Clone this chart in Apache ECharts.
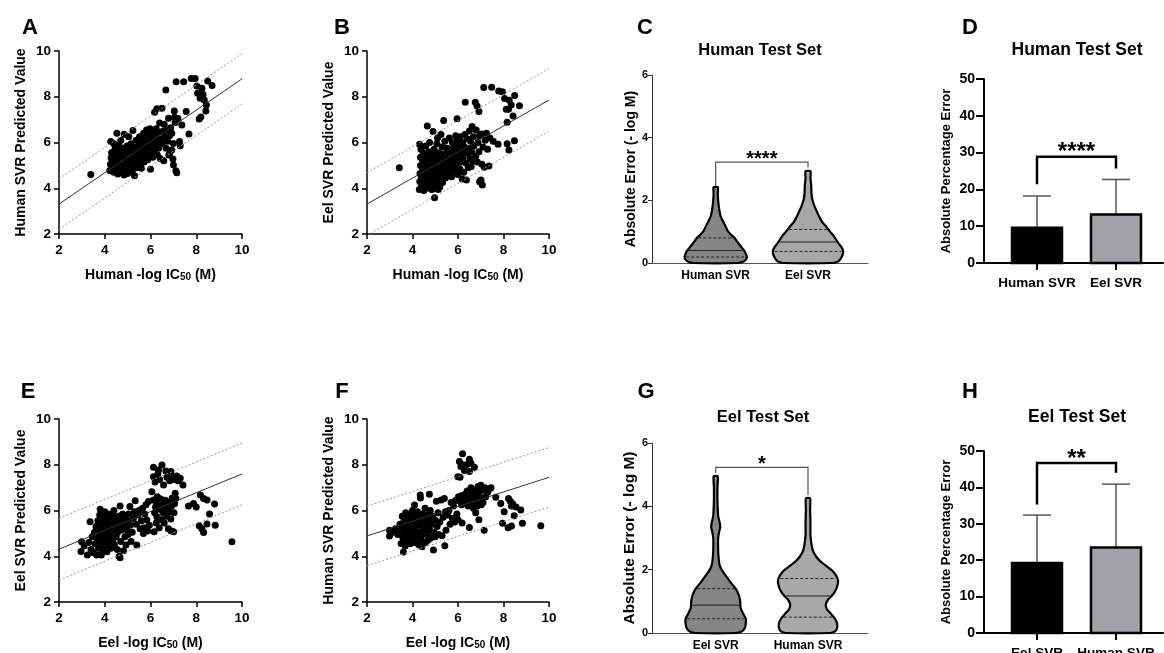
<!DOCTYPE html>
<html>
<head>
<meta charset="utf-8">
<script src="https://cdn.jsdelivr.net/npm/echarts@6/dist/echarts.min.js"></script>
<style>
html, body { margin: 0; padding: 0; background: #fff; }
#fig { width: 1164px; height: 653px; }
</style>
</head>
<body>
<div id="fig"></div>
<script>
const FONT = '"Liberation Sans", Arial, Helvetica, sans-serif';

// A: human test set, human SVR prediction vs measured
const ptsA = [
  [3.39,4.60],[4.26,6.04],[4.53,6.40],[4.85,6.36],[5.23,6.52],[5.05,6.25],[4.70,6.10],[4.40,5.95],
  [4.22,4.78],[4.25,5.05],[4.28,5.32],[4.30,5.55],[4.33,4.92],[4.36,5.18],[4.40,4.70],[4.42,5.45],
  [4.45,5.70],[4.47,5.00],[4.50,5.28],[4.52,4.82],[4.55,5.55],[4.57,4.62],[4.60,5.12],[4.62,5.88],
  [4.65,5.38],[4.67,4.90],[4.70,5.62],[4.72,5.20],[4.75,4.70],[4.77,5.45],[4.80,5.02],[4.82,5.75],
  [4.85,4.58],[4.87,5.30],[4.90,5.55],[4.92,4.85],[4.95,5.15],[4.97,5.85],[5.00,4.65],[5.02,5.40],
  [5.05,5.00],[5.07,5.65],[5.10,4.80],[5.12,5.25],[5.15,5.95],[5.17,5.50],[5.20,4.72],[5.22,5.10],
  [5.25,5.78],[5.27,5.35],[5.30,4.55],[5.32,5.60],[5.35,5.05],[5.37,6.10],[5.40,5.45],[5.42,4.90],
  [5.45,5.85],[5.47,5.25],[5.50,5.65],[5.52,6.25],[5.55,5.05],[5.57,5.50],[5.60,4.87],[5.62,6.00],
  [5.65,5.35],[5.67,5.78],[5.70,6.40],[5.72,5.15],[4.35,5.40],[4.58,5.00],[4.78,5.25],[4.62,4.75],
  [4.88,5.10],[5.08,5.30],[4.48,5.15],[4.93,5.40],[5.18,4.95],[5.28,5.55],[4.68,5.50],[4.83,4.95],
  [5.75,5.60],[5.78,6.15],[5.80,5.40],[5.83,6.55],[5.85,5.90],[5.88,5.25],[5.90,6.30],[5.93,5.70],
  [5.95,6.05],[5.98,6.60],[6.00,4.83],[6.00,5.50],[6.03,6.20],[6.05,5.85],[6.08,6.45],[6.10,5.35],
  [6.12,6.00],[6.15,5.65],[6.18,7.32],[6.20,6.30],[6.22,5.90],[6.25,6.60],[6.28,7.47],[6.30,5.45],
  [6.32,6.10],[6.35,5.75],[6.38,6.45],[6.40,6.85],[6.42,5.30],[6.45,6.15],[6.50,7.50],[6.52,5.95],
  [6.55,6.50],[6.58,5.20],[6.60,6.80],[6.62,6.25],[6.67,8.30],[6.68,5.75],[6.70,6.55],[6.75,6.05],
  [6.79,7.06],[6.80,5.45],[6.83,6.30],[6.83,5.50],[6.88,6.65],[6.93,6.40],[6.93,5.67],[6.98,5.28],
  [7.00,5.02],[7.00,5.96],[7.04,7.38],[7.05,7.10],[7.08,6.87],[7.11,4.77],[7.15,4.68],[7.12,8.66],
  [7.20,7.05],[7.27,6.04],[7.30,5.86],[7.37,6.77],[7.45,8.66],[7.56,7.35],[7.68,6.37],[7.78,8.80],
  [7.95,8.80],[8.03,8.47],[8.06,8.15],[8.13,7.03],[8.17,7.93],[8.20,7.12],[8.25,8.37],[8.35,7.86],
  [8.42,7.38],[8.44,7.64],[8.50,8.69],[8.69,8.49],[8.30,8.10]
];
const fitA = [0.684, 1.942, 1.10]; // slope, intercept, prediction band

// B: human test set, eel SVR prediction
const ptsB = [
  [3.42,4.90],[4.31,5.92],[4.65,6.72],[4.90,6.48],[5.37,6.96],[5.10,6.20],[4.75,6.00],[5.25,6.35],
  [4.30,3.95],[4.32,4.30],[4.33,4.65],[4.35,5.00],[4.35,5.35],[4.37,5.70],[4.40,4.10],[4.42,4.45],
  [4.44,4.85],[4.45,5.20],[4.47,5.55],[4.50,3.90],[4.52,4.25],[4.55,4.65],[4.57,5.05],[4.58,5.85],
  [4.60,5.40],[4.62,4.00],[4.65,4.45],[4.67,4.85],[4.70,5.25],[4.72,5.60],[4.75,4.15],[4.77,4.60],
  [4.80,5.00],[4.82,5.45],[4.85,3.95],[4.87,4.35],[4.90,4.80],[4.92,5.20],[4.95,5.70],[4.97,3.59],
  [4.98,4.10],[5.00,4.55],[5.02,4.95],[5.05,5.35],[5.07,5.95],[5.10,4.30],[5.12,4.75],[5.15,5.10],
  [5.17,5.55],[5.20,4.05],[5.22,4.50],[5.25,4.90],[5.27,5.30],[5.30,5.80],[5.32,4.25],[5.35,4.70],
  [5.37,5.10],[5.40,5.50],[5.42,6.05],[5.45,4.45],[5.47,4.90],[5.50,5.30],[5.52,5.75],[5.55,4.60],
  [5.57,5.05],[5.60,5.55],[5.62,6.20],[5.65,4.80],[5.67,5.25],[5.70,5.70],[5.72,4.50],[5.75,6.00],
  [5.77,5.00],[5.80,5.45],[4.38,4.55],[4.48,4.05],[4.60,4.70],[4.68,5.10],[4.78,4.40],[4.88,5.55],
  [5.00,4.20],[5.08,4.65],[5.18,5.30],[5.28,4.60],[4.55,5.25],[4.83,4.75],[5.13,3.95],[4.95,4.00],
  [5.83,4.75],[5.85,5.90],[5.88,5.20],[5.90,6.30],[5.93,4.95],[5.95,5.65],[5.96,7.04],[5.98,6.10],
  [6.00,4.60],[6.03,5.40],[6.05,5.85],[6.08,4.85],[6.10,6.25],[6.12,5.15],[6.15,5.60],[6.18,4.40],
  [6.20,6.00],[6.22,5.35],[6.25,4.70],[6.28,5.80],[6.30,6.35],[6.32,7.76],[6.35,5.10],[6.37,4.36],
  [6.40,5.55],[6.42,6.15],[6.45,4.90],[6.48,5.75],[6.50,6.50],[6.52,5.30],[6.55,6.05],[6.58,4.95],
  [6.60,5.60],[6.62,6.70],[6.65,5.20],[6.68,6.25],[6.70,5.85],[6.76,7.76],[6.78,5.40],[6.80,6.55],
  [6.84,7.60],[6.85,5.15],[6.88,6.00],[6.92,7.35],[6.92,5.60],[6.95,6.30],
  [7.01,4.36],[7.07,4.14],[6.95,4.28],[7.03,6.37],[7.05,5.05],[7.10,5.80],[7.13,8.40],[7.15,4.92],
  [7.20,6.10],[7.25,6.40],[7.30,5.70],[7.36,4.97],[7.40,6.20],[7.48,8.41],[7.55,6.05],[7.76,5.92],
  [7.79,8.25],[7.95,8.22],[8.05,7.92],[8.12,7.45],[8.16,6.88],[8.16,5.94],[8.22,7.45],[8.24,5.67],
  [8.34,7.64],[8.42,7.16],[8.48,6.08],[8.49,8.05],[8.70,7.61],[8.25,7.85]
];
const fitB = [0.569, 2.17, 1.37];

// E: eel test set, eel SVR prediction
const ptsE = [
  [2.99,4.63],[2.96,4.21],[3.10,4.45],[3.24,4.05],[3.30,4.60],[3.36,5.51],[3.40,4.30],[3.45,4.85],
  [3.50,4.15],[3.55,5.05],[3.58,4.55],[3.62,5.30],[3.65,4.05],[3.68,4.75],[3.70,5.55],[3.72,4.35],
  [3.75,5.00],[3.78,5.80],[3.80,6.06],[3.80,4.60],[3.82,5.20],[3.85,4.05],[3.87,4.90],[3.88,5.45],
  [3.90,4.30],[3.92,5.70],[3.95,4.70],[3.97,5.10],[4.00,4.45],[4.00,5.95],[4.02,5.35],[4.05,4.85],
  [4.07,5.60],[4.10,4.20],[4.12,5.05],[4.15,5.85],[4.17,4.60],[4.20,5.30],[4.22,4.90],[4.25,5.55],
  [4.27,4.35],[4.30,5.80],[4.32,5.10],[4.35,4.70],[4.37,5.45],[4.40,6.00],[4.42,4.50],[4.45,5.25],
  [4.47,5.70],[4.50,4.85],[4.52,5.50],[4.55,4.30],[4.57,5.05],[4.60,5.75],[4.63,4.00],[4.65,5.35],
  [4.67,3.93],[4.67,6.20],[4.70,4.65],[4.72,5.55],[4.75,5.15],[4.78,5.85],[4.82,4.24],[4.85,5.40],
  [4.88,4.85],[4.90,5.70],[4.93,4.49],[4.95,5.20],[5.00,5.55],[5.02,4.95],[5.05,5.85],[5.10,6.17],
  [5.12,5.35],[5.15,4.65],[5.20,5.05],
  [5.25,5.65],[5.30,5.95],[5.33,6.43],[5.38,5.40],[5.40,4.49],[5.45,5.80],[5.50,6.00],[5.55,5.20],
  [5.60,5.55],[5.65,6.10],[5.69,5.00],[5.72,5.25],[5.75,5.85],[5.80,6.25],[5.84,5.58],[5.88,5.10],
  [5.91,6.39],[5.95,5.35],
  [6.06,6.82],[6.13,7.89],[6.13,7.48],[6.13,6.46],[6.16,5.07],[6.18,5.90],[6.20,7.25],[6.22,6.15],
  [6.25,5.45],[6.28,5.73],[6.30,6.60],[6.32,7.60],[6.35,7.77],[6.35,6.30],[6.38,5.25],[6.40,7.35],
  [6.42,6.05],[6.45,6.50],[6.48,5.60],[6.50,7.99],[6.52,6.20],[6.55,5.90],[6.57,7.12],[6.58,6.40],
  [6.60,5.45],[6.63,6.10],[6.67,7.73],[6.68,6.30],[6.70,5.75],[6.72,7.45],[6.75,6.05],[6.78,5.20],
  [6.80,6.35],[6.83,7.30],[6.85,5.95],[6.89,7.70],[6.89,5.63],[6.89,5.11],[6.92,6.20],[6.95,6.55],
  [7.00,7.35],[7.01,7.48],[7.01,5.07],[7.03,5.90],[7.05,6.30],[7.08,6.75],[7.11,6.53],[7.15,7.51],
  [7.20,7.30],[7.30,7.41],[7.42,7.12],[6.25,6.35],[6.45,6.25],[6.65,6.45],
  [7.66,6.20],[7.88,6.31],[8.00,6.15],[8.18,6.68],[8.32,6.53],[8.47,6.46],[8.80,6.28],[8.58,5.85],
  [8.13,5.33],[8.32,5.04],[8.47,5.41],[8.83,5.36],[9.56,4.63],[8.25,5.20]
];
const fitE = [0.411, 3.488, 1.35];

// F: eel test set, human SVR prediction
const ptsF = [
  [2.99,5.14],[2.99,4.88],[3.15,5.05],[3.25,5.20],[3.35,4.95],[3.45,5.40],[3.50,4.56],[3.52,5.15],
  [3.55,5.75],[3.58,4.80],[3.60,4.19],[3.62,5.50],[3.65,5.00],[3.68,4.45],[3.70,5.90],[3.72,5.30],
  [3.75,4.70],[3.78,5.65],[3.80,5.10],[3.82,4.90],[3.85,5.85],[3.87,5.40],[3.90,4.55],[3.92,5.20],
  [3.95,5.70],[3.97,4.80],[4.00,6.00],[4.02,5.50],[4.05,4.95],[4.07,5.30],[4.09,6.24],[4.10,4.60],
  [4.12,5.75],[4.15,5.10],[4.17,5.55],[4.20,4.85],[4.22,5.95],[4.25,5.35],[4.27,4.50],[4.30,5.65],
  [4.32,5.05],[4.34,6.68],[4.35,6.55],[4.37,4.75],[4.40,5.45],[4.42,4.41],[4.45,5.85],[4.47,5.20],
  [4.50,4.95],[4.52,5.60],[4.55,6.10],[4.57,4.60],[4.60,5.35],[4.62,5.80],[4.65,5.00],[4.68,4.70],
  [4.70,5.55],[4.74,6.71],[4.75,5.15],[4.78,6.00],[4.80,4.80],[4.85,5.40],[4.88,5.75],[4.92,4.27],
  [4.95,5.05],[4.98,5.60],[5.00,4.85],[5.05,6.40],[5.08,5.30],[5.12,5.90],[5.15,4.95],[5.20,5.50],
  [5.26,6.46],[5.30,4.90],[5.35,5.70],[5.40,6.53],[5.42,4.46],[5.45,5.95],[5.47,5.14],
  [5.55,5.80],[5.60,6.00],[5.65,5.40],[5.70,6.35],[5.75,5.65],[5.80,6.20],[5.85,5.50],[5.90,6.45],
  [5.95,5.85],[5.99,7.48],[6.00,5.60],[6.02,6.60],[6.06,8.14],[6.09,7.45],[6.10,6.40],[6.13,7.92],
  [6.15,6.65],[6.18,5.45],[6.20,8.48],[6.20,8.00],[6.22,6.55],[6.25,6.30],[6.28,7.75],[6.30,6.70],
  [6.35,6.50],[6.38,8.00],[6.40,6.85],[6.42,6.60],[6.45,6.20],[6.50,8.24],[6.50,7.70],[6.50,5.26],
  [6.52,6.45],[6.55,6.70],[6.57,8.07],[6.57,7.00],[6.60,6.55],[6.63,6.30],[6.65,6.85],[6.68,6.10],
  [6.72,7.89],[6.72,6.60],[6.75,6.40],[6.78,5.90],[6.80,6.90],[6.82,6.55],[6.85,6.20],[6.88,7.05],
  [6.90,6.65],[6.92,5.60],[6.95,6.40],[6.98,6.85],[7.00,7.10],[7.02,6.25],[7.05,6.55],[7.08,6.90],
  [7.10,6.35],[7.15,5.14],[7.18,7.00],[7.22,6.60],[7.30,6.80],[7.38,6.95],[7.45,7.00],[7.66,6.58],
  [6.00,6.45],[6.15,6.25],
  [7.88,6.31],[8.03,5.95],[8.22,6.53],[8.30,6.40],[8.40,6.30],[8.35,6.20],[8.76,6.02],[8.47,5.77],
  [8.35,5.32],[7.96,5.44],[8.83,5.44],[9.64,5.33],[8.20,5.25],[8.55,6.15]
];
const fitF = [0.32, 4.25, 1.30];
const fitRange = [2, 10];

// C: violin profiles, human test set (density relative to widest)
const violinCatsC = ['Human SVR', 'Eel SVR'];
const cHumanY = [0, 0.05, 0.12, 0.2, 0.3, 0.4, 0.5, 0.6, 0.7, 0.8, 0.9, 1.0, 1.1, 1.2, 1.35, 1.5, 1.65, 1.8, 2.0, 2.2, 2.42];
const cHumanD = [0.63, 0.80, 0.87, 0.89, 0.86, 0.81, 0.74, 0.67, 0.60, 0.54, 0.44, 0.36, 0.31, 0.27, 0.20, 0.14, 0.11, 0.09, 0.07, 0.06, 0.06];
const cEelY = [0, 0.05, 0.15, 0.3, 0.4, 0.5, 0.6, 0.7, 0.8, 0.9, 1.0, 1.1, 1.2, 1.3, 1.4, 1.5, 1.6, 1.7, 1.8, 2.0, 2.2, 2.5, 2.7, 2.93];
const cEelD = [0.69, 0.86, 0.94, 1.00, 1.00, 0.96, 0.89, 0.83, 0.77, 0.71, 0.63, 0.56, 0.49, 0.41, 0.36, 0.31, 0.27, 0.23, 0.19, 0.13, 0.10, 0.09, 0.07, 0.07];
const cQuartiles = [[0.19, 0.40, 0.80], [0.37, 0.67, 1.07]];
const bracketC = [2.45, 3.22, 3.05];

// G: violin profiles, eel test set
const violinCatsG = ['Eel SVR', 'Human SVR'];
const gEelY = [0, 0.05, 0.15, 0.3, 0.45, 0.6, 0.8, 1.0, 1.2, 1.4, 1.55, 1.7, 1.85, 2.0, 2.15, 2.3, 2.6, 3.0, 3.2, 3.35, 3.5, 3.7, 3.9, 4.2, 4.6, 4.95];
const gEelD = [0.57, 0.74, 0.83, 0.86, 0.86, 0.79, 0.71, 0.70, 0.66, 0.57, 0.46, 0.36, 0.26, 0.17, 0.11, 0.09, 0.07, 0.07, 0.10, 0.13, 0.11, 0.07, 0.06, 0.05, 0.05, 0.06];
const gHumanY = [0, 0.05, 0.15, 0.3, 0.45, 0.6, 0.75, 0.9, 1.05, 1.2, 1.35, 1.5, 1.65, 1.8, 1.95, 2.1, 2.25, 2.4, 2.6, 2.8, 3.1, 3.5, 3.9, 4.25];
const gHumanD = [0.63, 0.77, 0.83, 0.83, 0.77, 0.66, 0.54, 0.51, 0.57, 0.70, 0.79, 0.84, 0.86, 0.81, 0.71, 0.54, 0.37, 0.24, 0.14, 0.10, 0.07, 0.07, 0.06, 0.06];
const gQuartiles = [[0.45, 0.88, 1.40], [0.50, 1.17, 1.72]];
const bracketG = [5.05, 5.23, 4.35];

// D / H: mean absolute percentage error with SD
const barCatsD = ['Human SVR', 'Eel SVR'];
const barMeanD = [9.6, 13.2];
const barSdD = [8.6, 9.5];
const bracketD = [21.4, 28.9, 25.7];
const barCatsH = ['Eel SVR', 'Human SVR'];
const barMeanH = [19.2, 23.5];
const barSdH = [13.2, 17.4];
const bracketH = [35.3, 46.7, 44.0];

const VIOLIN_PX = 35;
const BAR_HALF = 25;
const CAP_HALF = 14;

function txt(size, extra) {
  return Object.assign({ color: '#000', fontWeight: 'bold', fontFamily: FONT, fontSize: size }, extra || {});
}

const grids = [
  { left: 59, top: 51, width: 183, height: 183 },   // A
  { left: 367, top: 51, width: 182, height: 183 },  // B
  { left: 652, top: 75, width: 216, height: 188 },  // C
  { left: 984, top: 79, width: 179, height: 184 },  // D
  { left: 59, top: 419, width: 183, height: 183 },  // E
  { left: 367, top: 419, width: 182, height: 183 }, // F
  { left: 652, top: 443, width: 216, height: 190 }, // G
  { left: 984, top: 451, width: 179, height: 182 }  // H
].map(g => Object.assign({ outerBoundsMode: 'none', containLabel: false }, g));

const xAxes = [];
const yAxes = [];
const series = [];

function icName(prefix) {
  return '{a|' + prefix + ' -log IC}{s|50}{a| (M)}';
}

function addScatterPanel(idx, pts, fit, xName, yName) {
  xAxes.push({
    gridIndex: idx, type: 'value', min: 2, max: 10, interval: 2,
    name: icName(xName), nameLocation: 'middle', nameGap: 30,
    nameTextStyle: { rich: {
      a: txt(14, { lineHeight: 18, verticalAlign: 'bottom' }),
      s: txt(10, { lineHeight: 8, verticalAlign: 'bottom' })
    } },
    axisLine: { onZero: false, lineStyle: { color: '#000', width: 1.5 } },
    axisTick: { length: 5, lineStyle: { color: '#000', width: 1.5 } },
    axisLabel: txt(13.5, { margin: 9 }),
    splitLine: { show: false }
  });
  yAxes.push({
    gridIndex: idx, type: 'value', min: 2, max: 10, interval: 2,
    name: yName, nameLocation: 'middle', nameGap: 31,
    nameTextStyle: txt(14),
    axisLine: { show: true, onZero: false, lineStyle: { color: '#000', width: 1.5 } },
    axisTick: { show: true, length: 5, lineStyle: { color: '#000', width: 1.5 } },
    axisLabel: txt(13.5, { margin: 8 }),
    splitLine: { show: false }
  });
  series.push({
    type: 'scatter', xAxisIndex: idx, yAxisIndex: idx, data: pts,
    symbolSize: 7, itemStyle: { color: '#000', opacity: 1 }, silent: true, z: 3
  });
  [-1, 0, 1].forEach(off => {
    series.push({
      type: 'line', xAxisIndex: idx, yAxisIndex: idx, silent: true, symbol: 'none', clip: true,
      data: fitRange.map(x => [x, fit[0] * x + fit[1] + off * fit[2]]),
      lineStyle: off === 0 ? { color: '#333', width: 1 } : { color: '#999', width: 1, type: [2, 2] },
      z: 4
    });
  });
}

function densityAt(ys, ds, v) {
  for (let i = 1; i < ys.length; i++) {
    if (v <= ys[i]) {
      const t = (v - ys[i - 1]) / (ys[i] - ys[i - 1]);
      return ds[i - 1] + t * (ds[i] - ds[i - 1]);
    }
  }
  return ds[ds.length - 1];
}

function catAxisX(idx, cats, min, max, size, showTicks) {
  return {
    gridIndex: idx, type: 'value', min: min, max: max,
    axisLine: { onZero: false, lineStyle: { color: showTicks ? '#000' : '#555', width: showTicks ? 2 : 1 } },
    axisTick: { show: showTicks, customValues: [0, 1], length: 7, lineStyle: { color: '#000', width: 2 } },
    axisLabel: txt(size, { customValues: [0, 1], margin: showTicks ? 13 : 7, formatter: v => cats[Math.round(v)] }),
    splitLine: { show: false }
  };
}

function addViolinPanel(idx, cats, profiles, quartiles, fills, bracket, stars, nameSize, nameGap) {
  xAxes.push(catAxisX(idx, cats, -0.69, 1.65, 12, false));
  yAxes.push({
    gridIndex: idx, type: 'value', min: 0, max: 6, interval: 2,
    name: 'Absolute Error (- log M)', nameLocation: 'middle', nameGap: nameGap,
    nameTextStyle: txt(nameSize),
    axisLine: { show: true, onZero: false, lineStyle: { color: '#333', width: 1 } },
    axisTick: { show: true, length: 4, lineStyle: { color: '#333', width: 1 } },
    axisLabel: txt(11, { margin: 4 }),
    splitLine: { show: false }
  });
  series.push({
    type: 'custom', xAxisIndex: idx, yAxisIndex: idx, silent: true,
    data: profiles.map((p, k) => [k]),
    renderItem: (params, api) => {
      const k = params.dataIndex;
      const p = profiles[k];
      const right = [], left = [];
      p[0].forEach((y, i) => {
        const c = api.coord([k, y]);
        right.push([c[0] + p[1][i] * VIOLIN_PX, c[1]]);
        left.push([c[0] - p[1][i] * VIOLIN_PX, c[1]]);
      });
      const children = [{
        type: 'polygon', shape: { points: right.concat(left.reverse()), smooth: 0.2 },
        style: { fill: fills[k], stroke: '#000', lineWidth: 2.2 }
      }];
      quartiles[k].forEach((q, j) => {
        const hw = densityAt(p[0], p[1], q) * VIOLIN_PX - 1.5;
        const c = api.coord([k, q]);
        children.push({
          type: 'line', shape: { x1: c[0] - hw, y1: c[1], x2: c[0] + hw, y2: c[1] },
          style: { stroke: '#222', lineWidth: 1, lineDash: j === 1 ? null : [3, 2] }
        });
      });
      return { type: 'group', children: children };
    }
  });
  addBracket(idx, bracket, stars, '#555', 1.2, 20, 3);
}

function addBracket(idx, b, stars, color, width, starSize, lift) {
  series.push({
    type: 'custom', xAxisIndex: idx, yAxisIndex: idx, silent: true, data: [[0]],
    renderItem: (params, api) => {
      const p0 = api.coord([0, b[0]]), p1 = api.coord([0, b[1]]);
      const p2 = api.coord([1, b[1]]), p3 = api.coord([1, b[2]]);
      return {
        type: 'group', children: [
          { type: 'polyline', shape: { points: [p0, p1, p2, p3] }, style: { stroke: color, lineWidth: width, fill: null } },
          { type: 'text', x: (p1[0] + p2[0]) / 2, y: p1[1] - lift,
            style: { text: stars, fontSize: starSize, fontWeight: 'bold', fontFamily: FONT, fill: '#000', align: 'center', verticalAlign: 'middle' } }
        ]
      };
    }
  });
}

function addBarPanel(idx, cats, means, sds, fills, bracket, stars, starSize) {
  xAxes.push(catAxisX(idx, cats, -0.671, 1.595, 13.5, true));
  yAxes.push({
    gridIndex: idx, type: 'value', min: 0, max: 50, interval: 10,
    name: 'Absolute Percentage Error', nameLocation: 'middle', nameGap: 31,
    nameTextStyle: txt(13),
    axisLine: { show: true, onZero: false, lineStyle: { color: '#000', width: 2 } },
    axisTick: { show: true, length: 8, lineStyle: { color: '#000', width: 2 } },
    axisLabel: txt(14, { margin: 9 }),
    splitLine: { show: false }
  });
  series.push({
    type: 'custom', xAxisIndex: idx, yAxisIndex: idx, silent: true,
    data: means.map((m, k) => [k, m, sds[k]]),
    renderItem: (params, api) => {
      const k = api.value(0), m = api.value(1), sd = api.value(2);
      const base = api.coord([k, 0]), top = api.coord([k, m]), err = api.coord([k, m + sd]);
      return {
        type: 'group', children: [
          { type: 'line', shape: { x1: base[0], y1: top[1], x2: base[0], y2: err[1] }, style: { stroke: '#555', lineWidth: 1.5 } },
          { type: 'line', shape: { x1: base[0] - CAP_HALF, y1: err[1], x2: base[0] + CAP_HALF, y2: err[1] }, style: { stroke: '#555', lineWidth: 1.5 } },
          { type: 'rect', shape: { x: base[0] - BAR_HALF, y: top[1], width: BAR_HALF * 2, height: base[1] - top[1] },
            style: { fill: fills[k], stroke: '#000', lineWidth: 2.5 } }
        ]
      };
    }
  });
  addBracket(idx, bracket, stars, '#000', 2.5, starSize, 4);
}

addScatterPanel(0, ptsA, fitA, 'Human', 'Human SVR Predicted Value');
addScatterPanel(1, ptsB, fitB, 'Human', 'Eel SVR Predicted Value');
addViolinPanel(2, violinCatsC, [[cHumanY, cHumanD], [cEelY, cEelD]], cQuartiles, ['#858585', '#a8a8a8'], bracketC, '****', 14, 12);
addBarPanel(3, barCatsD, barMeanD, barSdD, ['#000', '#a2a2a6'], bracketD, '****', 24);
addScatterPanel(4, ptsE, fitE, 'Eel', 'Eel SVR Predicted Value');
addScatterPanel(5, ptsF, fitF, 'Eel', 'Human SVR Predicted Value');
addViolinPanel(6, violinCatsG, [[gEelY, gEelD], [gHumanY, gHumanD]], gQuartiles, ['#858585', '#a8a8a8'], bracketG, '*', 15.5, 13);
addBarPanel(7, barCatsH, barMeanH, barSdH, ['#000', '#a2a2a6'], bracketH, '**', 24);

const panelLetters = [['A', 30, 28], ['B', 342, 28], ['C', 645, 28], ['D', 970, 28],
                      ['E', 28, 392], ['F', 342, 392], ['G', 646, 392], ['H', 970, 392]];
const panelTitles = [['Human Test Set', 760, 50, 16.5], ['Human Test Set', 1077, 50, 17.5],
                     ['Eel Test Set', 763, 417, 16.5], ['Eel Test Set', 1077, 417, 17.5]];

const graphic = panelLetters.map(l => ({
  type: 'text', x: l[1], y: l[2], silent: true,
  style: { text: l[0], fontSize: 22, fontWeight: 'bold', fontFamily: FONT, fill: '#000', align: 'center', verticalAlign: 'middle' }
})).concat(panelTitles.map(t => ({
  type: 'text', x: t[1], y: t[2], silent: true,
  style: { text: t[0], fontSize: t[3], fontWeight: 'bold', fontFamily: FONT, fill: '#000', align: 'center', verticalAlign: 'middle' }
})));

const chart = echarts.init(document.getElementById('fig'), null, { renderer: 'canvas' });
chart.setOption({
  backgroundColor: '#fff',
  animation: false,
  grid: grids,
  xAxis: xAxes,
  yAxis: yAxes,
  series: series,
  graphic: graphic
});
</script>
</body>
</html>
